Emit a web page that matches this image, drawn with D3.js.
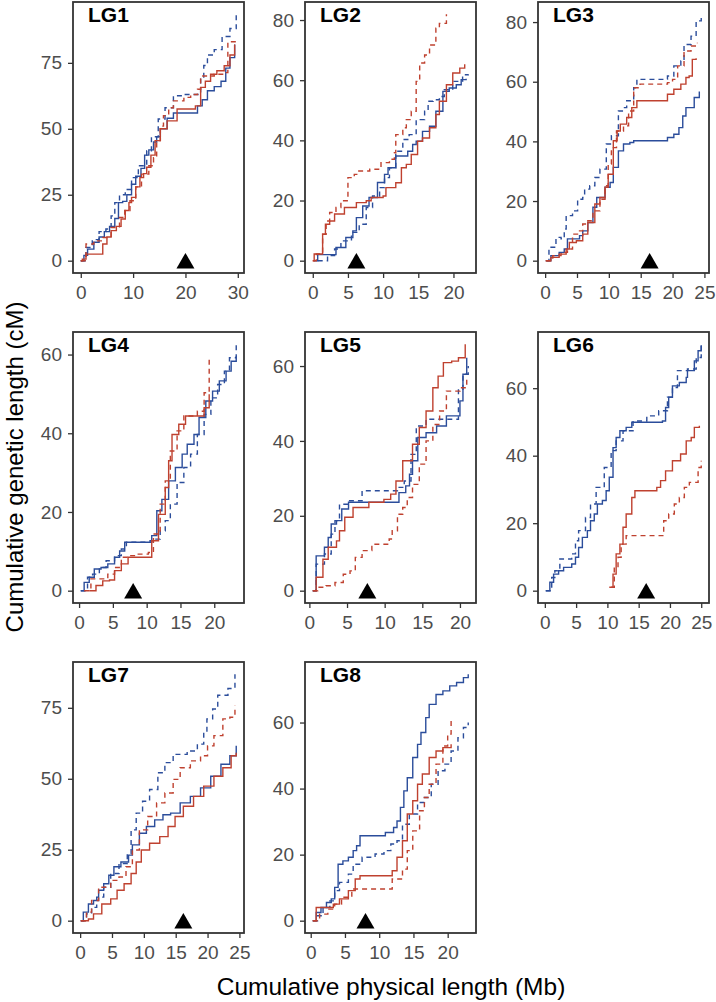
<!DOCTYPE html>
<html><head><meta charset="utf-8">
<script src="https://cdn.jsdelivr.net/npm/d3@7"></script>
<style>body{margin:0;background:#fff}</style>
</head><body>
<script>
// ---------- DATA ----------
const panelNames = ["LG1","LG2","LG3","LG4","LG5","LG6","LG7","LG8"];
const markerX = [20, 6.2, 16.4, 8.0, 7.7, 16.2, 16.2, 8.0];
const xTicks = [[0,10,20,30],[0,5,10,15,20],[0,5,10,15,20,25],[0,5,10,15,20],[0,5,10,15,20],[0,5,10,15,20,25],[0,5,10,15,20,25],[0,5,10,15,20]];
const yTicks = [[0,25,50,75],[0,20,40,60,80],[0,20,40,60,80],[0,20,40,60],[0,20,40,60],[0,20,40,60],[0,25,50,75],[0,20,40,60]];
const seriesKeys = ["blueSolid","blueDashed","redSolid","redDashed"];

const LG1_blueSolid = [[0,0],[0.6,2],[1.3,4.4],[2.5,7],[3.5,9],[4.5,11],[5.5,13],[6.5,16],[7.2,22],[8,22.5],[8.8,25],[9.7,29],[10.5,32],[11.5,35],[12.2,40],[13,42],[13.9,45],[14.5,47],[15.2,50],[16.5,54],[17.7,56],[22,56],[22.3,58.7],[23.2,61],[24.2,64.4],[25.5,66],[26.8,68],[27.7,73],[28.5,77],[29.4,82]];
const LG1_blueDashed = [[0,0],[1,5],[2.2,8],[3.5,11],[4.8,12],[5.8,17],[6.5,22],[7.4,25],[8.5,27],[9.7,31.5],[11,36],[12.6,41.7],[13.5,47],[14.8,53.7],[16.1,58],[17.7,62.5],[19.7,63],[21.9,63],[22.9,68.8],[23.5,74],[24.2,78],[25.5,80],[27,85],[28.5,88],[29.7,93.4]];
const LG1_redSolid = [[0,0],[0.3,0.6],[1,2.5],[3.5,2.5],[4.2,6.3],[5,9],[5.8,11.4],[6.8,13],[7.7,15.8],[8.5,19],[9.2,22],[9.7,24],[10.5,28],[11.3,31.5],[12,33],[12.6,35.4],[13.4,40],[14.2,45.5],[15.2,50],[16.5,53],[18.4,57.5],[21.9,58.7],[22.9,65.7],[23.8,68],[24.8,70.7],[26,72],[27.4,73.9],[28.5,78],[29.4,82]];
const LG1_redDashed = [[0,0],[1,6.3],[2.5,7.5],[4.2,8.8],[5.8,12.6],[7.4,16.4],[8.4,19],[9.4,22.7],[10.5,28],[11.6,32.8],[13,36],[13.9,39],[14.5,45.5],[15.2,51],[15.8,55],[16.8,58],[17.7,60.6],[19.7,61.9],[21,63],[22.3,65],[22.9,70],[25.5,70.7],[27.1,71.3],[28.1,83],[29.7,83]];

const LG2_blueSolid = [[0.2,0],[0.7,2],[2.6,2],[3.3,4.4],[4.7,7.7],[5.7,9.9],[6.2,14.3],[7.1,18.2],[8,21],[9.2,26],[10.2,28.7],[10.7,30.9],[11.8,34.8],[12.8,34.8],[13.5,36.4],[14.2,38.6],[14.7,39.7],[15.6,43],[16.6,44.7],[17.5,49.7],[18.5,56.3],[19.4,57.4],[20.4,58.5],[21.1,60.2],[21.8,60.5]];
const LG2_blueDashed = [[0.7,0],[1.4,0],[2.1,1.7],[3.1,3.9],[4,6.6],[5.5,9.4],[6.6,12.1],[7.6,17.7],[8.5,21.5],[9.5,24.3],[10.2,27.6],[10.9,30.9],[11.8,36.4],[12.8,40.3],[13.7,41.9],[14.7,46.9],[15.9,49.7],[16.4,53],[17.1,53.5],[18,54.6],[18.7,56.8],[19.9,59.6],[21.3,61.8],[22.1,62]];
const LG2_redSolid = [[0,0],[0.2,2.2],[0.7,2.2],[1.4,8.8],[1.8,12.1],[2.4,13.2],[3.1,15.5],[4,15.5],[4.5,17.7],[6.2,19.3],[7.6,19.9],[8.3,21],[10,21.5],[10.4,24.3],[11.8,25.9],[12.6,30.9],[13.3,32],[14,35.3],[14.9,39.7],[15.6,40.8],[16.6,44.2],[17.5,48.6],[18,53],[19,58.5],[19.9,62.4],[20.9,64],[21.6,65.3]];
const LG2_redDashed = [[0,0],[0.5,2.2],[1.4,8.8],[1.9,13.2],[2.4,16],[3.3,17.7],[4,19.9],[5,27.6],[5.9,28.7],[6.4,29.8],[8.1,30.4],[9.7,32.6],[10.9,33.7],[11.6,35.9],[11.8,41.9],[12.8,44.2],[13.3,46.9],[14,49.7],[14.7,59.6],[15.2,65.7],[15.9,68.4],[16.6,71.7],[17.5,77.3],[18,78.9],[19,81.9]];

const LG3_blueSolid = [[0.3,0],[0.9,1.7],[2.2,2.8],[3,3.9],[3.5,7.3],[4.6,7.3],[5.4,8.4],[5.9,10],[6.7,12.8],[7.5,17.9],[8.1,21.2],[8.8,21.2],[9.4,24.6],[10.2,26.2],[10.7,31.3],[11.5,36.8],[12.3,39.1],[13.3,39.6],[13.9,40.2],[18.6,40.2],[19.2,41.3],[20.2,42.4],[21,44.6],[21.6,48.5],[22.1,51.3],[23.1,51.3],[23.4,54.7],[24.2,56.7]];
const LG3_blueDashed = [[0.1,0],[0.6,4.5],[1.7,7.8],[2.5,7.3],[3,10.6],[3.3,15.1],[4.1,15.1],[4.3,16.7],[5.1,20.6],[5.9,21.2],[6.2,24],[7,25.1],[7.8,27.9],[8.6,30.7],[9.6,39.1],[10.4,41.9],[11.5,50.2],[12.3,51.3],[12.8,53.6],[13.9,58],[14.4,60.8],[18.1,60.8],[19.2,61.9],[20.2,65.3],[21.3,67],[21.8,72.5],[22.9,75.3],[23.7,80.4],[24.5,82.6]];
const LG3_redSolid = [[0.1,0],[0.9,1.1],[2.2,2.2],[3.3,3.9],[3.8,6.1],[4.9,6.7],[5.9,8.9],[6.7,12.8],[7.8,19],[8.6,21.2],[9.4,24.6],[9.9,29],[10.7,40.2],[11.3,43.5],[11.8,45.8],[12.8,48],[13.6,51.3],[14.4,53.6],[18.6,53.6],[19.2,55.8],[20.2,57.5],[21.3,59.2],[22.1,61.4],[22.6,61.9],[23.1,67.5],[23.7,67.9]];
const LG3_redDashed = [[0.1,0],[1.2,1.7],[2.5,2.8],[3.5,3.9],[4.3,8.9],[5.4,10],[5.9,12.3],[6.7,13.4],[7.5,16.7],[8.6,20.6],[9.4,25.1],[9.9,32.4],[10.4,37.9],[11.2,43.5],[12.3,45.2],[13.1,50.2],[13.9,58],[14.9,59.2],[19.2,59.7],[20,60.8],[20.8,65.3],[21.8,70.3],[22.9,72],[23.9,73.1]];

const LG4_blueSolid = [[0.25,0],[0.75,2.1],[1.5,3.4],[2.25,5.5],[3.25,5.9],[4.25,6.8],[5.25,8.5],[6,10.1],[6.75,12.3],[10,12.3],[10.75,14],[11.5,20.3],[12.25,23.2],[13.25,27.9],[14.25,31.3],[15.25,34.7],[16,37.2],[17,39.7],[17.75,44],[18.75,48.2],[19.75,50.7],[20.75,53.3],[21.75,55.8],[22.5,58.3],[23.25,59.6]];
const LG4_blueDashed = [[0.25,0],[1.25,3.4],[2,4.2],[3,5.9],[4,7.6],[5.25,8.9],[6.25,10.6],[7,12.3],[10.5,12.7],[11.25,13.1],[12,15.2],[12.75,17.8],[13.5,22],[14.5,27.5],[15.5,31.3],[16.5,34.7],[17.5,39.7],[18.5,44.8],[19.5,49],[20.5,52.4],[21.5,55.8],[22.25,59.2],[23.25,62.6]];
const LG4_redSolid = [[1.5,0],[2.5,1.3],[3.5,2.5],[4.5,2.7],[5.25,5.1],[6.25,6.8],[7.25,8.5],[10,8.5],[10.75,12.7],[11.75,19.4],[12.75,26.2],[13.25,33],[13.75,39.7],[14.75,42.3],[15.75,44.4],[17.75,44.4],[18.5,46.5],[19.25,49.9]];
const LG4_redDashed = [[0.75,0],[1.75,3],[3.25,3],[4.25,4.2],[5.25,5.9],[6.25,8.5],[7.5,8.9],[8.5,9.3],[10.25,9.7],[11,14.4],[12,22],[12.75,27.9],[13.5,35.5],[14.5,40.6],[15.5,44.4],[17.5,45.6],[18.5,50.3],[19.25,58.7]];

const LG5_blueSolid = [[0.45,0],[0.9,9.3],[1.6,9.3],[2,11.6],[2.5,14.2],[2.9,17.8],[3.6,18.7],[4.3,21.8],[5.2,23.6],[11.5,23.6],[11.9,26.2],[12.8,28],[13.3,31.1],[13.7,34.7],[14.4,40.9],[15.5,42.2],[16.4,42.2],[16.9,44],[18,44],[18.2,46.7],[19.3,46.7],[20,50.7],[20.4,57.8],[20.9,62.2]];
const LG5_blueDashed = [[0.45,0],[0.9,7.1],[2,9.8],[2.9,15.1],[3.4,18.7],[4,23.1],[5.2,24],[7,26.7],[10.6,26.7],[11.7,27.6],[12.6,29.3],[13.5,36.4],[14.2,44],[15.5,45.8],[18.9,45.8],[19.8,53.8],[20.4,57.8],[21.1,60]];
const LG5_redSolid = [[0.45,0],[0.9,3.6],[1.8,8.4],[2.5,11.6],[3.6,13.3],[4,16],[4.7,19.6],[5.8,22.2],[7.9,23.6],[9.9,24.4],[10.8,25.8],[11.5,29.3],[12.4,34.7],[13.7,39.1],[14.6,43.6],[15.5,48],[16.4,54.2],[17.1,57.3],[17.8,60.9],[18.9,61.3],[19.8,62.2],[20.7,65.8]];
const LG5_redDashed = [[0.45,0],[1.1,0.9],[2.2,1.3],[3.4,2.2],[4.5,4.4],[5.4,5.3],[6.1,8.9],[7,10.7],[8.3,12.4],[10.6,13.8],[11,16],[11.7,20.4],[12.4,22.2],[13,24.9],[13.7,28.4],[14.6,33.8],[15.5,40],[16.4,44.4],[17.3,48],[18.2,53.3],[20,54.2],[20.9,56.9]];

const LG6_blueSolid = [[0.15,0],[0.8,2.5],[1.4,4.9],[2.2,5.9],[3,6.9],[3.8,6.9],[4.3,7.9],[4.9,9.9],[5.4,12.8],[6,15.8],[6.8,17.8],[7.3,20.7],[7.9,22.7],[8.4,25.7],[9.2,26.7],[9.8,29.6],[10.3,33.6],[10.9,42.4],[11.4,45.4],[12,47.4],[13,48.4],[13.9,49.9],[18.8,50.3],[19.3,54.3],[19.8,57.3],[20.4,60.7],[21.5,61.7],[22.6,63.2],[22.8,65.2],[23.9,68.1],[24.5,71.1],[25,72.6]];
const LG6_blueDashed = [[0.15,0],[1.1,3.9],[1.6,5.9],[2.4,9.4],[3.5,9.4],[4.3,10.9],[4.9,14.8],[5.4,17.8],[6.5,21.7],[7.3,25.7],[8.2,30.6],[9.5,36.5],[10.6,41.5],[11.4,44.4],[12.5,47.4],[14.1,50.3],[16.3,51.8],[18.2,53.3],[19.6,57.3],[20.4,60.2],[21.2,65.2],[22.8,65.7],[24.2,69.1],[25,73]];
const LG6_redSolid = [[10.3,1],[10.9,4.9],[11.4,10.9],[12,13.8],[12.5,18.8],[13,22.7],[13.9,27.6],[14.4,29.6],[16.8,29.6],[17.9,30.6],[18.5,32.6],[19.3,35.5],[20.4,38.5],[21.7,40.5],[22.6,44.4],[23.4,45.4],[23.9,48.4],[24.7,48.9]];
const LG6_redDashed = [[10.6,1],[11.1,6.9],[11.7,9.9],[12.2,13.8],[13,16.3],[18.2,16.3],[19,20.7],[19.8,22.7],[20.7,25.7],[21.5,27.6],[22.3,30.6],[23.1,32.1],[23.9,32.1],[24.5,36.5],[25,38.5]];

const LG7_blueSolid = [[0.1,0],[0.5,3],[1.3,5.9],[2.1,7.1],[2.9,10.7],[3.7,13],[4.5,16],[5.3,19],[6.4,20.7],[7.6,23.1],[8.2,26.7],[9.3,30.8],[10.4,33.2],[11.7,35.5],[13,37.3],[14.2,37.9],[15.7,41.5],[17.3,43.8],[18.9,46.8],[20.5,50.9],[22.1,55.1],[23.5,58.1],[24.5,61.6]];
const LG7_blueDashed = [[0.1,0],[1,2.4],[1.8,4.7],[2.6,8.3],[3.7,11.8],[4.8,16.6],[6.1,20.1],[7.4,23.7],[8,32],[8.8,37.9],[9.8,42.1],[10.9,46.2],[12.2,52.1],[13.3,55.7],[14.6,58.6],[16.8,59.8],[18.4,62.2],[19.4,66.4],[19.9,71.1],[20.8,74.6],[21.6,79.4],[23.2,81.8],[24.3,86.8]];
const LG7_redSolid = [[0.1,0],[1.3,0.6],[2.1,2.4],[2.9,2.4],[3.4,5.9],[4.8,7.7],[5.8,10.7],[6.9,13],[8,16.6],[8.8,20.7],[9.6,24.9],[10.9,27.3],[12.5,29.6],[13.8,33.2],[14.9,36.7],[16.2,40.3],[17.8,43.8],[19.4,47.4],[21,50.9],[22.4,53.9],[23.7,58.1],[24.5,59.2]];
const LG7_redDashed = [[0.1,0],[1,3],[1.8,7.1],[2.9,11.8],[4,11.8],[4.8,14.2],[6.1,15.4],[7.2,19],[8.2,24.9],[9.3,32],[10.6,36.7],[12,41.5],[13.3,45],[14.6,49.8],[15.7,53.9],[17.3,56.3],[18.9,58.1],[20,61.6],[21,65.2],[22.4,71.1],[23.5,71.7],[24.3,75.8]];

const LG8_blueSolid = [[0.3,0],[0.8,2.5],[1.5,4],[2.3,5.5],[3,6.6],[3.5,10.1],[4,17.1],[4.7,18.1],[5.5,19.2],[6.2,21.2],[6.7,22.7],[7.2,25.7],[9.9,25.7],[10.9,26.7],[12.1,28.2],[12.6,30.2],[13.1,34.3],[13.6,39.3],[14.1,43.3],[14.9,49.4],[15.6,53.4],[16.1,57],[16.8,61.5],[17.3,65.5],[18.3,68.5],[19.3,69.6],[20.3,71.1],[21.3,72.1],[22.3,73.6],[23,74.6]];
const LG8_blueDashed = [[0.3,0],[1,1.5],[1.8,4],[2.8,6],[3.5,9.1],[4.2,11.6],[5.5,14.1],[6.2,17.1],[7.5,19.2],[9.4,20.2],[10.7,21.2],[11.7,23.2],[12.6,24.2],[13.4,29.2],[14.4,32.3],[15.6,35.8],[16.6,37.3],[17.6,41.3],[18.6,45.4],[19.6,47.4],[20.5,51.4],[21.5,55.4],[22.3,58.5],[23,60]];
const LG8_redSolid = [[0.3,0],[0.8,4],[3.3,5],[4.2,6.6],[5.5,9.1],[6.5,12.6],[7.2,13.6],[10.9,13.6],[11.9,15.1],[12.6,19.2],[13.4,24.2],[14.1,32.3],[14.9,36.3],[15.6,41.3],[16.3,44.4],[17.3,49.4],[18.3,51.4],[19.3,52.4],[20.5,53.4]];
const LG8_redDashed = [[0.3,0],[1.3,2],[2.5,3.5],[3.5,5],[4.5,7.1],[6,9.6],[10.9,9.6],[11.9,12.6],[13.4,15.6],[14.1,21.2],[14.9,27.2],[15.9,33.3],[16.6,37.3],[17.3,41.3],[18.3,47.4],[19.3,52.9],[20,56.5],[20.5,61.5]];

// table built from the arrays above
const seriesData = {
  LG1:{blueSolid:LG1_blueSolid,blueDashed:LG1_blueDashed,redSolid:LG1_redSolid,redDashed:LG1_redDashed},
  LG2:{blueSolid:LG2_blueSolid,blueDashed:LG2_blueDashed,redSolid:LG2_redSolid,redDashed:LG2_redDashed},
  LG3:{blueSolid:LG3_blueSolid,blueDashed:LG3_blueDashed,redSolid:LG3_redSolid,redDashed:LG3_redDashed},
  LG4:{blueSolid:LG4_blueSolid,blueDashed:LG4_blueDashed,redSolid:LG4_redSolid,redDashed:LG4_redDashed},
  LG5:{blueSolid:LG5_blueSolid,blueDashed:LG5_blueDashed,redSolid:LG5_redSolid,redDashed:LG5_redDashed},
  LG6:{blueSolid:LG6_blueSolid,blueDashed:LG6_blueDashed,redSolid:LG6_redSolid,redDashed:LG6_redDashed},
  LG7:{blueSolid:LG7_blueSolid,blueDashed:LG7_blueDashed,redSolid:LG7_redSolid,redDashed:LG7_redDashed},
  LG8:{blueSolid:LG8_blueSolid,blueDashed:LG8_blueDashed,redSolid:LG8_redSolid,redDashed:LG8_redDashed}
};

// ---------- STYLE / LAYOUT ----------
const BLUE = "#2b4d9b", RED = "#bf412f";
const styleOf = {
  blueSolid:{color:BLUE, dash:null},
  blueDashed:{color:BLUE, dash:"5,4"},
  redSolid:{color:RED, dash:null},
  redDashed:{color:RED, dash:"5,4"}
};
const W = 716, H = 1002;
const colLeft = [73, 305, 538], rowTop = [2, 332, 662], pw = 171, ph = 271;
const FONT = "'Liberation Sans', Arial, Helvetica, sans-serif";

const svg = d3.select("body").append("svg")
  .attr("width", W).attr("height", H)
  .style("font-family", FONT);
svg.append("rect").attr("width", W).attr("height", H).attr("fill", "#fff");

panelNames.forEach((name, i) => {
  const col = i % 3, row = Math.floor(i / 3);
  const g = svg.append("g").attr("transform", `translate(${colLeft[col]},${rowTop[row]})`);
  const lines = seriesKeys.map(k => ({key: k, pts: seriesData[name][k]}));
  const allX = lines.flatMap(l => l.pts.map(p => p[0])).concat([markerX[i]]);
  const allY = lines.flatMap(l => l.pts.map(p => p[1])).concat([0]);
  const [x0, x1] = d3.extent(allX), [y0, y1] = d3.extent(allY);
  const ex = (x1 - x0) * 0.05, ey = (y1 - y0) * 0.05;
  const x = d3.scaleLinear().domain([x0 - ex, x1 + ex]).range([0, pw]);
  const y = d3.scaleLinear().domain([y0 - ey, y1 + ey]).range([ph, 0]);

  const lineGen = d3.line().x(d => x(d[0])).y(d => y(d[1])).curve(d3.curveStepAfter);
  g.selectAll("path.series").data(lines).join("path")
    .attr("class", "series")
    .attr("d", d => lineGen(d.pts))
    .attr("fill", "none")
    .attr("stroke", d => styleOf[d.key].color)
    .attr("stroke-width", 1.4)
    .attr("stroke-dasharray", d => styleOf[d.key].dash);

  g.append("path")
    .attr("d", d3.symbol(d3.symbolTriangle, 140)())
    .attr("transform", `translate(${x(markerX[i])},${y(0) + 2.6})`)
    .attr("fill", "#000");

  const xa = g.append("g").attr("transform", `translate(0,${ph})`)
    .call(d3.axisBottom(x).tickValues(xTicks[i]).tickSize(5).tickPadding(8).tickFormat(d3.format("d")));
  const ya = g.append("g")
    .call(d3.axisLeft(y).tickValues(yTicks[i]).tickSize(5).tickPadding(6).tickFormat(d3.format("d")));
  [xa, ya].forEach(a => {
    a.select(".domain").remove();
    a.selectAll(".tick line").attr("stroke", "#333").attr("stroke-width", 1.3);
    a.selectAll(".tick text").attr("fill", "#4d4d4d").style("font-size", "19px").style("font-family", FONT);
  });

  g.append("rect").attr("width", pw).attr("height", ph)
    .attr("fill", "none").attr("stroke", "#333").attr("stroke-width", 1.8);

  g.append("text").attr("x", 15).attr("y", 20)
    .attr("font-weight", "bold").attr("font-size", 21).attr("fill", "#000")
    .text(name);
});

svg.append("text")
  .attr("x", 391).attr("y", 995).attr("text-anchor", "middle")
  .attr("font-size", 24.5).attr("fill", "#000")
  .text("Cumulative physical length (Mb)");
svg.append("text")
  .attr("transform", "translate(23,467) rotate(-90)").attr("text-anchor", "middle")
  .attr("font-size", 24).attr("fill", "#000")
  .text("Cumulative genetic length (cM)");
</script>
</body></html>
